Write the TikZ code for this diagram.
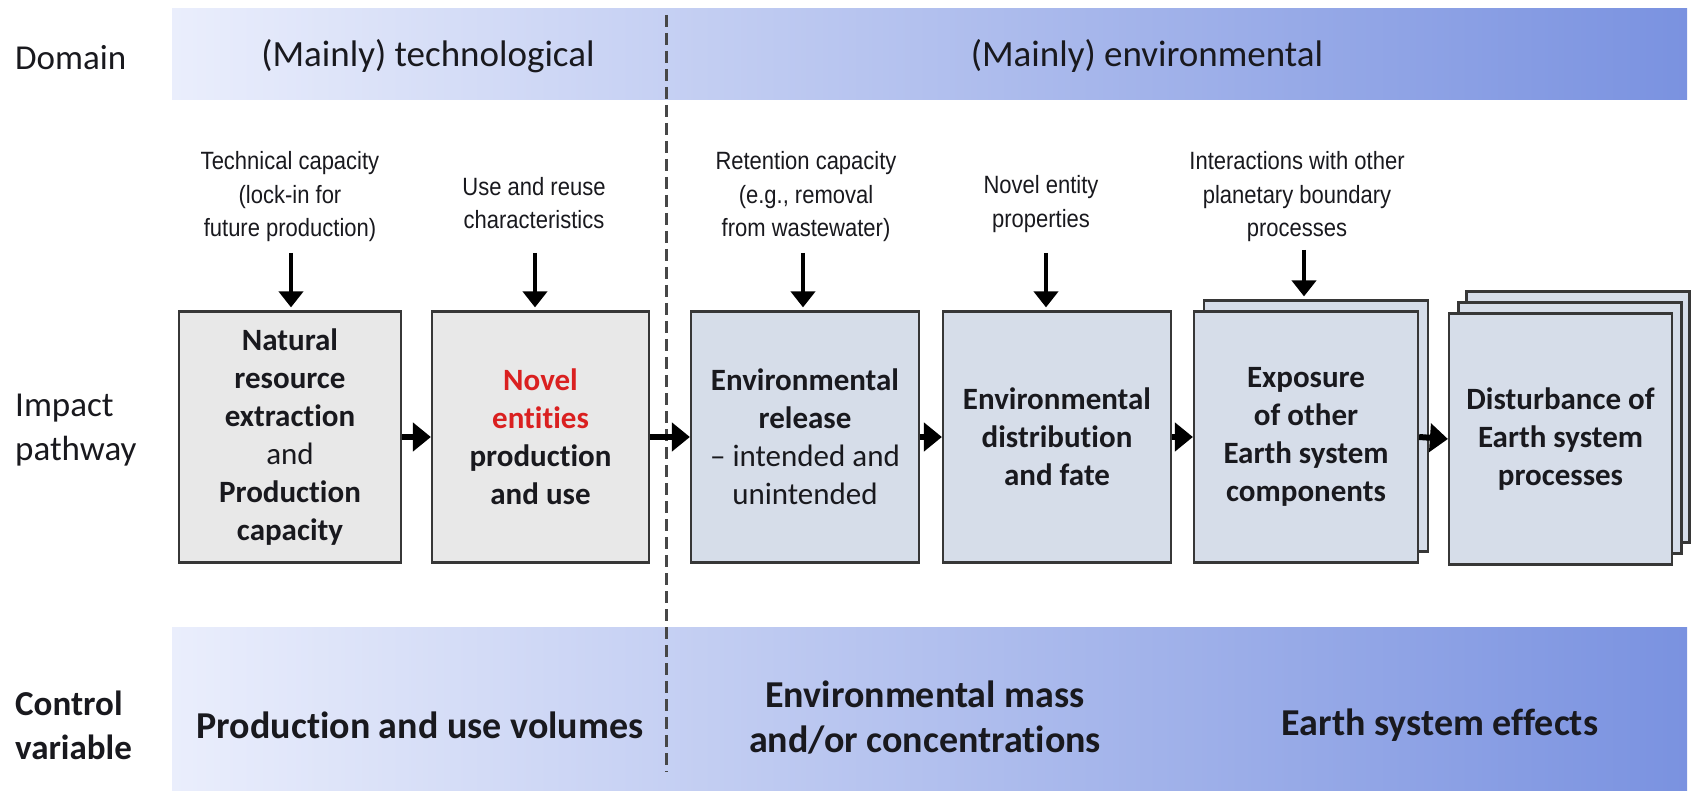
\documentclass[tikz,border=0pt]{standalone}
\usepackage{fontspec}
\setmainfont[Ligatures=NoCommon]{Carlito}
\newfontfamily\annfont[FakeStretch=0.88]{Liberation Sans}
\usetikzlibrary{arrows.meta}
\definecolor{boxgray}{RGB}{232,232,232}
\definecolor{boxblue}{RGB}{214,221,233}
\definecolor{bandL}{RGB}{234,238,252}
\definecolor{bandR}{RGB}{122,146,224}
\definecolor{novelred}{RGB}{218,32,32}
\definecolor{edgegray}{RGB}{55,55,55}
\definecolor{txt}{RGB}{25,25,30}
\tikzset{
  pbox/.style={draw=edgegray, line width=2.2pt, minimum width=#1, minimum height=251pt,
    inner sep=0pt, align=center, text=txt,
    font=\fontsize{31}{38}\selectfont\bfseries},
  layer/.style={draw=edgegray, line width=2.2pt, fill=boxblue, minimum width=#1,
    minimum height=251pt, inner sep=0pt},
  ann/.style={align=center, inner sep=0pt, text=txt,
    font=\annfont\fontsize{25}{33.5}\selectfont},
  sidelab/.style={anchor=west, align=left, inner sep=0pt, text=txt,
    font=\fontsize{35}{44}\selectfont},
  bandtxt/.style={inner sep=0pt, text=txt, font=\fontsize{37}{44}\selectfont},
  ctrltxt/.style={inner sep=0pt, align=center, text=txt,
    font=\fontsize{38}{45}\selectfont\bfseries},
  harr/.style={line width=6pt, -{Triangle[length=18pt,width=28pt]}},
  darr/.style={line width=4pt, -{Triangle[length=16pt,width=24pt]}, shorten >=3pt},
  divider/.style={line width=3pt, draw=black!72, dash pattern=on 12pt off 6pt}
}
\begin{document}
\begin{tikzpicture}[x=1pt,y=-1pt]
\useasboundingbox (0,0) rectangle (1694,791);
\fill[white] (0,0) rectangle (1694,791);

% bands
\shade[left color=bandL, right color=bandR] (172,9) rectangle (1687,100);
\shade[left color=bandL, right color=bandR] (172,627) rectangle (1687,791);

% divider
\coordinate (dtop) at (666,15);
\coordinate (dbot) at (666,772);
\draw[divider] (dtop) -- (dbot);

% side labels
\node[sidelab] (ldom) at (15,58) {Domain};
\node[sidelab] (limp) at (15,430) {Impact\\pathway};
\node[sidelab, font=\fontsize{35}{44}\selectfont\bfseries] (lctl) at (15,725) {Control\\variable};

% band texts
\node[bandtxt] (tech) at (428,56) {(Mainly) technological};
\node[bandtxt] (env) at (1147,56) {(Mainly) environmental};

% stacked back layers
\node[layer=224pt] (b5back) at (1316,426) {};
\node[layer=223pt] (b6back2) at (1578,417) {};
\node[layer=223pt] (b6back1) at (1570,428) {};

% boxes
\node[pbox=222pt, fill=boxgray] (b1) at (290,437)
  {Natural\\resource\\extraction\\{\mdseries and}\\Production\\capacity};
\node[pbox=217pt, fill=boxgray] (b2) at (540.5,437)
  {\textcolor{novelred}{Novel}\\\textcolor{novelred}{entities}\\production\\and use};
\node[pbox=228pt, fill=boxblue] (b3) at (805,437)
  {Environmental\\release\\{\mdseries \textendash\ intended and}\\{\mdseries unintended}};
\node[pbox=228pt, fill=boxblue] (b4) at (1057,437)
  {Environmental\\distribution\\and fate};
\node[pbox=224pt, fill=boxblue] (b5) at (1306,437)
  {Exposure\\of other\\Earth system\\components};
\node[pbox=223pt, fill=boxblue] (b6) at (1560.5,439)
  {Disturbance of\\Earth system\\processes};

% horizontal arrows
\draw[harr] (b1.east) -- (b2.west);
\draw[harr] (b2.east) -- (b3.west);
\draw[harr] (b3.east) -- (b4.west);
\draw[harr] (b4.east) -- (b5.west);
\draw[harr] (b5.east) -- (b6.west);

% annotations
\node[ann] (a1) at (290,197) {Technical capacity\\(lock-in for\\future production)};
\node[ann] (a2) at (534,203) {Use and reuse\\characteristics};
\node[ann] (a3) at (806,197) {Retention capacity\\(e.g., removal\\from wastewater)};
\node[ann] (a4) at (1041,204) {Novel entity\\properties};
\node[ann] (a5) at (1297,197) {Interactions with other\\planetary boundary\\processes};

% down arrows
\draw[darr] (291,253) -- (291,0 |- b1.north);
\draw[darr] (535,253) -- (535,0 |- b2.north);
\draw[darr] (803,253) -- (803,0 |- b3.north);
\draw[darr] (1046,253) -- (1046,0 |- b4.north);
\draw[darr] (1304,250) -- (1304,0 |- b5back.north);

% control variable texts
\node[ctrltxt] (cv1) at (420,725) {Production and use volumes};
\node[ctrltxt] (cv2) at (925,718) {Environmental mass\\and/or concentrations};
\node[ctrltxt] (cv3) at (1440,725) {Earth system effects};
\end{tikzpicture}
\end{document}
